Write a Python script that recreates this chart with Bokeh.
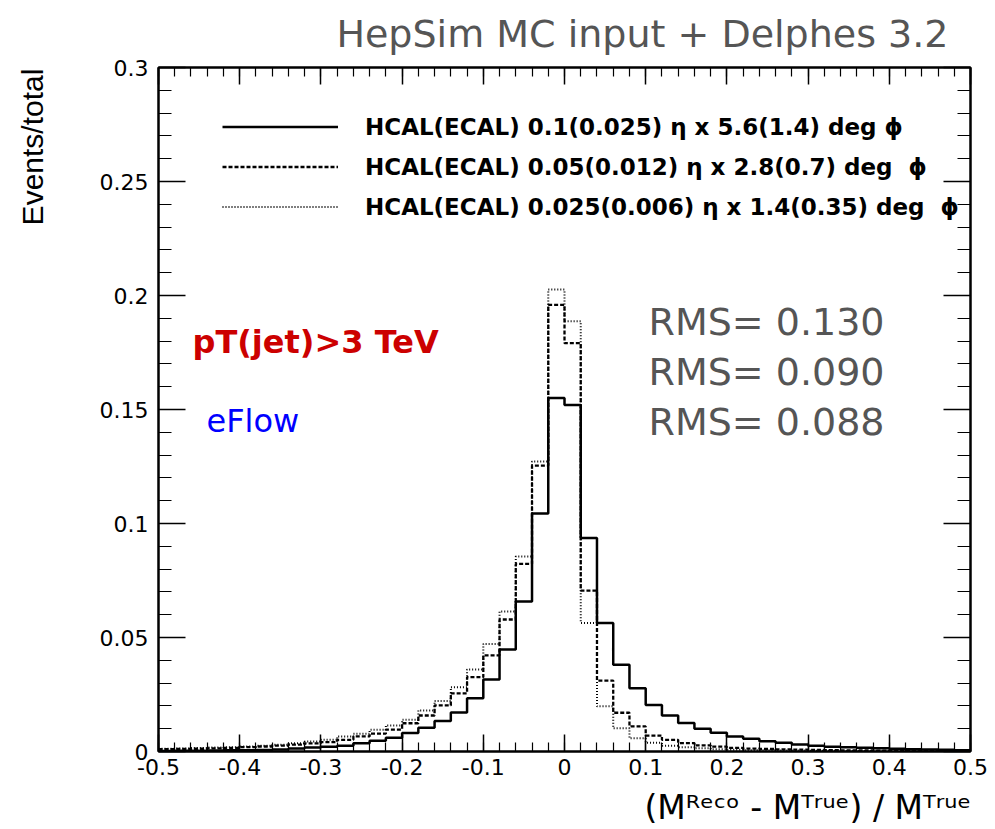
import numpy as np
from bokeh.plotting import figure
from bokeh.models import (Range1d, LinearAxis, FixedTicker, CustomJSTickFormatter,
                          Label, Legend, LegendItem)
from bokeh.embed import file_html
from bokeh.resources import INLINE

# ---------------- data ----------------
bin_edges = np.round(np.linspace(-0.5, 0.5, 51), 2)

# HCAL(ECAL) 0.1(0.025) eta x 5.6(1.4) deg phi  (solid)
solid_vals = [0.0002, 0.0003, 0.0003, 0.0004, 0.0005, 0.0006, 0.0007, 0.0009, 0.0013, 0.0017,
              0.0021, 0.0025, 0.0036, 0.0047, 0.0060, 0.0081, 0.0104, 0.0134, 0.0171, 0.0234,
              0.0316, 0.0447, 0.0658, 0.1044, 0.1550, 0.1520, 0.0936, 0.0564, 0.0380, 0.0277,
              0.0204, 0.0158, 0.0125, 0.0100, 0.0082, 0.0066, 0.0056, 0.0045, 0.0038, 0.0031,
              0.0025, 0.0021, 0.0019, 0.0016, 0.0014, 0.0012, 0.0010, 0.0009, 0.0008, 0.0005]

# HCAL(ECAL) 0.05(0.012) eta x 2.8(0.7) deg phi  (dashed)
dashed_vals = [0.0010, 0.0011, 0.0012, 0.0014, 0.0016, 0.0019, 0.0022, 0.0026, 0.0030, 0.0036,
               0.0041, 0.0051, 0.0066, 0.0078, 0.0096, 0.0124, 0.0158, 0.0202, 0.0255, 0.0326,
               0.0422, 0.0579, 0.0823, 0.1254, 0.1959, 0.1791, 0.0706, 0.0311, 0.0170, 0.0110,
               0.0070, 0.0051, 0.0037, 0.0027, 0.0021, 0.0016, 0.0013, 0.0011, 0.0009, 0.0008,
               0.0007, 0.0006, 0.0005, 0.0005, 0.0004, 0.0004, 0.0003, 0.0003, 0.0003, 0.0002]

# HCAL(ECAL) 0.025(0.006) eta x 1.4(0.35) deg phi  (dotted)
dotted_vals = [0.0012, 0.0013, 0.0015, 0.0017, 0.0019, 0.0022, 0.0025, 0.0030, 0.0036, 0.0044,
               0.0051, 0.0066, 0.0078, 0.0095, 0.0114, 0.0139, 0.0180, 0.0222, 0.0282, 0.0360,
               0.0472, 0.0614, 0.0855, 0.1272, 0.2026, 0.1887, 0.0564, 0.0198, 0.0102, 0.0058,
               0.0038, 0.0025, 0.0019, 0.0014, 0.0010, 0.0008, 0.0006, 0.0005, 0.0004, 0.0004,
               0.0003, 0.0003, 0.0002, 0.0002, 0.0002, 0.0002, 0.0001, 0.0001, 0.0001, 0.0001]

legend_labels = [
    "HCAL(ECAL) 0.1(0.025) \u03b7 x 5.6(1.4) deg \u03d5",
    "HCAL(ECAL) 0.05(0.012) \u03b7 x 2.8(0.7) deg \u00a0\u03d5",
    "HCAL(ECAL) 0.025(0.006) \u03b7 x 1.4(0.35) deg \u00a0\u03d5",
]
rms_texts = ["RMS= 0.130", "RMS= 0.090", "RMS= 0.088"]
title_text = "HepSim MC input + Delphes 3.2"
x_title = "(M\u1d3f\u1d49\u1d9c\u1d52 - M\u1d40\u02b3\u1d58\u1d49) / M\u1d40\u02b3\u1d58\u1d49"
y_title = "Events/total"

x_major = [-0.5, -0.4, -0.3, -0.2, -0.1, 0.0, 0.1, 0.2, 0.3, 0.4, 0.5]
y_major = [0.0, 0.05, 0.1, 0.15, 0.2, 0.25, 0.3]
x_minor = list(np.round(np.arange(-0.5, 0.5001, 0.02), 2))
y_minor = list(np.round(np.arange(0.0, 0.3001, 0.01), 2))

# ---------------- layout helpers ----------------
FL, FR, FT, FB = 158, 970, 67, 751
EM, EN, QUARTER = "\u2003", "\u2002", "\u2005"


def dx(px):
    return -0.5 + (px - FL) / (FR - FL)


def dy(py):
    return 0.3 * (FB - py) / (FB - FT)


p = figure(width=995, height=829, x_range=Range1d(-0.5, 0.5), y_range=Range1d(0, 0.3),
           output_backend="svg", toolbar_location=None,
           min_border_left=FL, min_border_right=995 - FR, min_border_top=FT,
           min_border_bottom=829 - FB)
p.xgrid.visible = False
p.ygrid.visible = False
p.outline_line_color = "black"
p.outline_line_width = 2
p.background_fill_color = "white"
p.border_fill_color = "white"

FONT = "DejaVu Sans"

fmt = CustomJSTickFormatter(code="return String(Math.round(tick*1000)/1000);")
empty_fmt = CustomJSTickFormatter(code="return '';")


def style_axis(ax, major, minor, tin, tmin, labels=True):
    ax.ticker = FixedTicker(ticks=major, minor_ticks=minor)
    ax.major_tick_in = tin
    ax.major_tick_out = 0
    ax.minor_tick_in = tmin
    ax.minor_tick_out = 0
    ax.axis_line_width = 2
    ax.major_tick_line_width = 1.5
    ax.minor_tick_line_width = 1.2
    ax.axis_line_color = "black"
    ax.major_tick_line_color = "black"
    ax.minor_tick_line_color = "black"
    if labels:
        ax.formatter = fmt
        ax.major_label_text_font = FONT
        ax.major_label_text_font_size = "22px"
        ax.major_label_text_color = "black"
    else:
        ax.formatter = empty_fmt
        ax.major_label_text_font_size = "0px"
        ax.major_label_standoff = 0


# bottom axis; its title is pushed to the right end of the axis with fixed-width spaces
xa = p.xaxis[0]
style_axis(xa, x_major, x_minor, 17, 9)
xa.major_label_standoff = 7
xa.axis_label = EM * 14 + EN + QUARTER + x_title
xa.axis_label_text_font = FONT
xa.axis_label_text_font_size = "33px"
xa.axis_label_text_font_style = "normal"
xa.axis_label_text_color = "black"
xa.axis_label_standoff = 10

# left axis; its title is pushed to the top end of the axis with fixed-width spaces
ya = p.yaxis[0]
style_axis(ya, y_major, y_minor, 27, 13)
ya.major_label_standoff = 10
ya.axis_label = EM * 17 + EN + y_title
ya.axis_label_text_font = "Liberation Sans"
ya.axis_label_text_font_size = "30px"
ya.axis_label_text_font_style = "normal"
ya.axis_label_text_color = "black"
ya.axis_label_standoff = 48

top_ax = LinearAxis()
style_axis(top_ax, x_major, x_minor, 17, 9, labels=False)
p.add_layout(top_ax, "above")
right_ax = LinearAxis()
style_axis(right_ax, y_major, y_minor, 27, 13, labels=False)
p.add_layout(right_ax, "right")

p.title.text = title_text
p.title.align = "right"
p.title.offset = 22
p.title.standoff = 20
p.title.vertical_align = "top"
p.title.text_font = FONT
p.title.text_font_size = "38px"
p.title.text_font_style = "normal"
p.title.text_color = "#555555"

# ---------------- histograms ----------------
r_solid = p.step(x=bin_edges, y=solid_vals + [solid_vals[-1]], mode="after",
                 line_color="black", line_width=2.5)
r_dash = p.step(x=bin_edges, y=dashed_vals + [dashed_vals[-1]], mode="after",
                line_color="black", line_width=2.3, line_dash="4 2")
r_dot = p.step(x=bin_edges, y=dotted_vals + [dotted_vals[-1]], mode="after",
               line_color="black", line_width=2.0, line_dash="1 2")

legend = Legend(items=[LegendItem(label=legend_labels[0], renderers=[r_solid]),
                       LegendItem(label=legend_labels[1], renderers=[r_dash]),
                       LegendItem(label=legend_labels[2], renderers=[r_dot])],
                location=(222 - FL, FB - 226), glyph_width=116, glyph_height=39,
                label_height=39, label_standoff=27, spacing=1, padding=0, margin=0,
                border_line_alpha=0, background_fill_alpha=0,
                label_text_font=FONT, label_text_font_style="bold",
                label_text_color="black",
                label_text_font_size="23px", label_text_baseline="middle")
p.add_layout(legend)

# ---------------- texts inside the frame ----------------
for i, t in enumerate(rms_texts):
    p.add_layout(Label(x=dx(648), y=dy(321 + 50 * i), text=t, text_align="left",
                       text_baseline="alphabetic", text_font=FONT,
                       text_font_size="38px", text_color="#555555"))
p.add_layout(Label(x=dx(192), y=dy(341), text="pT(jet)>3 TeV", text_align="left",
                   text_baseline="alphabetic", text_font=FONT, text_font_style="bold",
                   text_font_size="32px", text_color="#CC0000"))
p.add_layout(Label(x=dx(206), y=dy(420), text="eFlow", text_align="left",
                   text_baseline="alphabetic", text_font=FONT,
                   text_font_size="32px", text_color="#0000FF"))

open("out.html", "w").write(file_html(p, INLINE))
